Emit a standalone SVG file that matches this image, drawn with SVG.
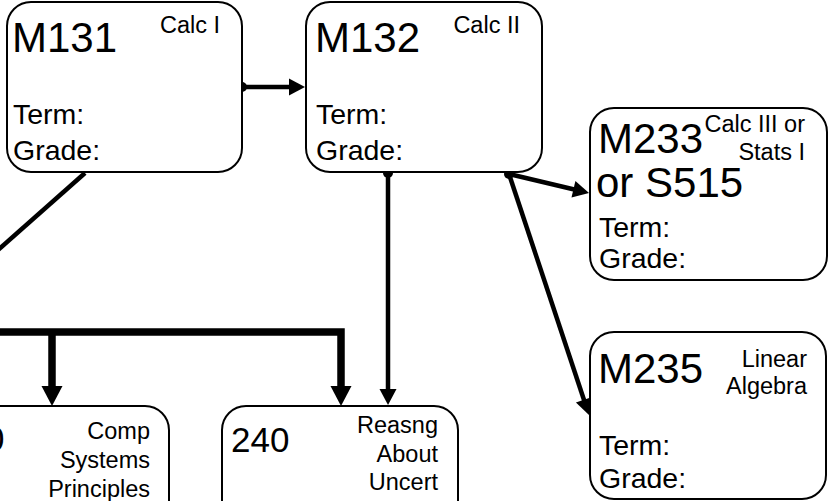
<svg xmlns="http://www.w3.org/2000/svg" width="833" height="501" viewBox="0 0 833 501">
<style>
.box{fill:#fff;stroke:#000;stroke-width:2}
text{font-family:"Liberation Sans",Arial,sans-serif;fill:#000}
.big{font-size:42px}
.mid{font-size:35px}
.sm{font-size:23.5px;text-anchor:end}
.tg{font-size:28.5px}
.c{fill:none;stroke:#000;stroke-width:4.5}
.t{fill:none;stroke:#000;stroke-width:7.5}
</style>
<defs>
<marker id="ah" markerUnits="userSpaceOnUse" markerWidth="20" markerHeight="20" refX="2" refY="8.5" orient="auto" overflow="visible"><path d="M0,0 L16,8.5 L0,17 Z" fill="#000"/></marker>
<marker id="ahb" markerUnits="userSpaceOnUse" markerWidth="22" markerHeight="22" refX="3" refY="10.5" orient="auto" overflow="visible"><path d="M0,0 L20,10.5 L0,21 Z" fill="#000"/></marker>
</defs>
<g id="connectors">
<path class="c" d="M85,173 L-20,266"/>
<path class="t" d="M-20,332 H341 V389" marker-end="url(#ahb)"/>
<path class="t" d="M52,332 V389" marker-end="url(#ahb)"/>
<path class="c" d="M242,87 H291" marker-end="url(#ah)"/>
<path class="c" d="M388,173 V391" marker-end="url(#ah)"/>
<path class="c" d="M509,174 L575.4,189.8" marker-end="url(#ah)"/>
<path class="c" d="M509,174 L584.6,401.7" marker-end="url(#ah)"/>
<circle cx="242" cy="87" r="5"/>
<circle cx="388" cy="173" r="5"/>
<circle cx="509" cy="174" r="5"/>
</g>
<g id="M131">
<rect class="box" x="7" y="2" width="235" height="170" rx="24"/>
<text class="big" x="12" y="52">M131</text>
<text class="sm" x="220" y="33">Calc I</text>
<text class="tg" x="13" y="124">Term:</text>
<text class="tg" x="13" y="160">Grade:</text>
</g>
<g id="M132">
<rect class="box" x="306" y="2" width="236" height="170" rx="24"/>
<text class="big" x="315" y="52">M132</text>
<text class="sm" x="520" y="33">Calc II</text>
<text class="tg" x="316" y="124">Term:</text>
<text class="tg" x="316" y="160">Grade:</text>
</g>
<g id="M233">
<rect class="box" x="590" y="108" width="237" height="172" rx="24"/>
<text class="big" x="598" y="153">M233</text>
<text class="big" x="596" y="197">or S515</text>
<text class="sm" x="805" y="132">Calc III or</text>
<text class="sm" x="805" y="160">Stats I</text>
<text class="tg" x="599" y="237">Term:</text>
<text class="tg" x="599" y="268">Grade:</text>
</g>
<g id="M235">
<rect class="box" x="590" y="332" width="236" height="167" rx="24"/>
<text class="big" x="598" y="383">M235</text>
<text class="sm" x="807" y="367">Linear</text>
<text class="sm" x="807" y="394">Algebra</text>
<text class="tg" x="599" y="455">Term:</text>
<text class="tg" x="599" y="488">Grade:</text>
</g>
<g id="comp">
<rect class="box" x="-67" y="406" width="236" height="170" rx="24"/>
<text class="mid" x="-15" y="451">0</text>
<text class="sm" x="150" y="439">Comp</text>
<text class="sm" x="150" y="468">Systems</text>
<text class="sm" x="150" y="497">Principles</text>
</g>
<g id="c240">
<rect class="box" x="222" y="406" width="236" height="170" rx="24"/>
<text class="mid" x="231" y="452">240</text>
<text class="sm" x="438" y="433">Reasng</text>
<text class="sm" x="438" y="462">About</text>
<text class="sm" x="438" y="490">Uncert</text>
</g>
</svg>
